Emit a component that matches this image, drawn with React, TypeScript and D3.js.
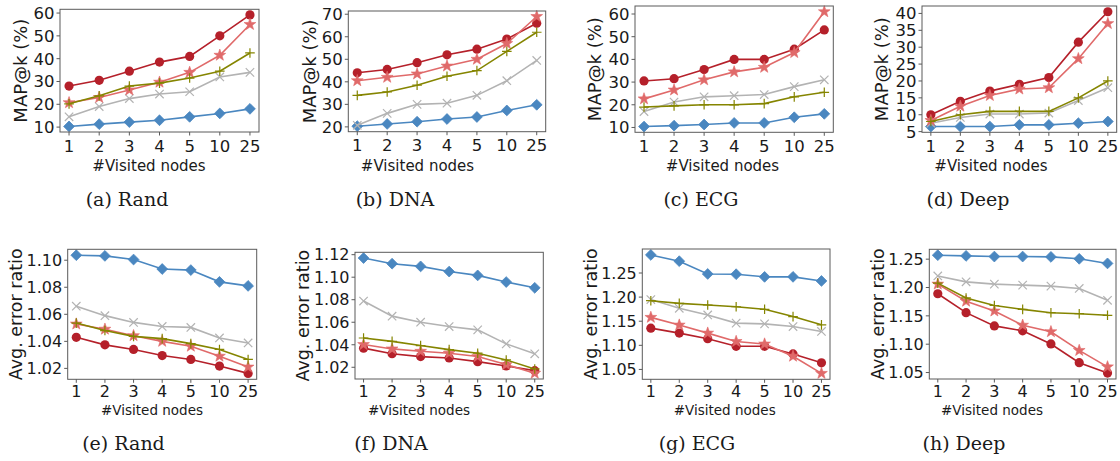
import React from "react";
import * as d3 from "d3";

// x categories
const visitedNodes = ["1", "2", "3", "4", "5", "10", "25"];

// ---- MAP@k (%) ----
const randMapCircle = [28, 30.5, 34.5, 38.5, 41, 50, 59.2];
const randMapStar = [20.7, 23, 26.3, 29.7, 34, 41.5, 55];
const randMapPlus = [20.2, 23.7, 28, 29.3, 31.5, 34.5, 42.5];
const randMapCross = [14.5, 19, 22.5, 24.5, 25.5, 32, 34];
const randMapDiamond = [10.3, 11.3, 12.2, 13, 14.5, 16, 18];

const dnaMapCircle = [44, 45.5, 48.5, 52, 54.5, 59, 66];
const dnaMapStar = [40.5, 42, 43.5, 47, 50, 57, 69];
const dnaMapPlus = [34, 35.5, 38.5, 42.5, 45, 53.5, 62];
const dnaMapCross = [20.7, 26, 30, 30.5, 34, 40.5, 49.5];
const dnaMapDiamond = [20.3, 21.3, 22.3, 23.5, 24.4, 27.3, 29.8];

const ecgMapCircle = [30.5, 31.5, 35.5, 40, 40, 44.5, 53];
const ecgMapStar = [22.6, 26.5, 31, 34.5, 36.5, 43, 61];
const ecgMapPlus = [19, 19.5, 20, 20, 20.5, 23.5, 25.5];
const ecgMapCross = [17, 21.2, 23.5, 24, 24.5, 28, 31];
const ecgMapDiamond = [10.4, 10.8, 11.3, 12, 12, 14.5, 16];

const deepMapCircle = [10, 14, 17, 19, 21, 31.5, 40.5];
const deepMapStar = [8.3, 12.5, 15.7, 17.6, 18, 26.6, 37];
const deepMapPlus = [8, 10, 11, 11, 11, 15, 20];
const deepMapCross = [7.5, 9.2, 10.2, 10.2, 10.5, 14.2, 18];
const deepMapDiamond = [6.5, 6.5, 6.5, 7, 7, 7.5, 8];

// ---- Avg. error ratio ----
const randErrCircle = [1.043, 1.0374, 1.034, 1.0295, 1.0266, 1.0217, 1.0163];
const randErrStar = [1.0528, 1.049, 1.0442, 1.04, 1.0364, 1.029, 1.021];
const randErrPlus = [1.0535, 1.048, 1.0437, 1.042, 1.0383, 1.034, 1.0266];
const randErrCross = [1.066, 1.059, 1.054, 1.051, 1.0503, 1.0425, 1.0388];
const randErrDiamond = [1.1037, 1.1032, 1.1005, 1.0935, 1.0927, 1.084, 1.081];

const dnaErrCircle = [1.037, 1.032, 1.0295, 1.0283, 1.025, 1.0212, 1.017];
const dnaErrStar = [1.0402, 1.0363, 1.0342, 1.0325, 1.0295, 1.0224, 1.0147];
const dnaErrPlus = [1.046, 1.043, 1.0393, 1.0357, 1.0325, 1.0265, 1.0185];
const dnaErrCross = [1.0788, 1.0654, 1.06, 1.0562, 1.0532, 1.0408, 1.032];
const dnaErrDiamond = [1.117, 1.112, 1.1096, 1.105, 1.1016, 1.0957, 1.0906];

const ecgErrCircle = [1.1356, 1.1253, 1.1137, 1.098, 1.098, 1.0822, 1.0637];
const ecgErrStar = [1.158, 1.142, 1.1253, 1.108, 1.1027, 1.0774, 1.0418];
const ecgErrPlus = [1.1925, 1.187, 1.1836, 1.18, 1.1747, 1.1596, 1.1425];
const ecgErrCross = [1.195, 1.1767, 1.163, 1.146, 1.1445, 1.139, 1.1288];
const ecgErrDiamond = [1.2875, 1.2745, 1.248, 1.2475, 1.242, 1.242, 1.2335];

const deepErrCircle = [1.189, 1.1556, 1.1323, 1.1236, 1.1004, 1.0674, 1.049];
const deepErrStar = [1.206, 1.1758, 1.1585, 1.1335, 1.122, 1.089, 1.06];
const deepErrPlus = [1.2077, 1.1816, 1.1683, 1.1614, 1.1556, 1.1538, 1.151];
const deepErrCross = [1.2204, 1.21, 1.206, 1.2042, 1.2024, 1.1984, 1.1775];
const deepErrDiamond = [1.257, 1.2558, 1.2546, 1.2546, 1.254, 1.2506, 1.2425];

// tick labels
const mapTicksRand = [10, 20, 30, 40, 50, 60];
const mapTicksDna = [20, 30, 40, 50, 60, 70];
const mapTicksEcg = [10, 20, 30, 40, 50, 60];
const mapTicksDeep = [5, 10, 15, 20, 25, 30, 35, 40];
const errTicksRand = [1.02, 1.04, 1.06, 1.08, 1.1];
const errTicksDna = [1.02, 1.04, 1.06, 1.08, 1.1, 1.12];
const errTicksEcg = [1.05, 1.1, 1.15, 1.2, 1.25];
const errTicksDeep = [1.05, 1.1, 1.15, 1.2, 1.25];

const COLORS = {
  circle: "#b5202a",
  star: "#e06a6a",
  plus: "#858500",
  cross: "#b3b3b3",
  diamond: "#4a87c0",
};

type Series = { circle: number[]; star: number[]; plus: number[]; cross: number[]; diamond: number[] };

type Panel = {
  caption: string;
  row: number;
  x0: number; x1: number; y0: number; y1: number;
  ticks: number[];
  fmt: (v: number) => string;
  ylabel: string;
  xlabelX: number;
  captionX: number;
  ylabelDy: number;
  series: Series;
};

const fmtInt = (v: number) => String(v);
const fmt2 = d3.format(".2f");

const panels: Panel[] = [
  { caption: "(a) Rand", row: 0, x0: 60, x1: 259, y0: 9.3, y1: 132, ticks: mapTicksRand, fmt: fmtInt, ylabel: "MAP@k (%)", xlabelX: 149, captionX: 127, ylabelDy: 39,
    series: { circle: randMapCircle, star: randMapStar, plus: randMapPlus, cross: randMapCross, diamond: randMapDiamond } },
  { caption: "(b) DNA", row: 0, x0: 348.3, x1: 545.7, y0: 11, y1: 131.7, ticks: mapTicksDna, fmt: fmtInt, ylabel: "MAP@k (%)", xlabelX: 417.5, captionX: 395, ylabelDy: 39,
    series: { circle: dnaMapCircle, star: dnaMapStar, plus: dnaMapPlus, cross: dnaMapCross, diamond: dnaMapDiamond } },
  { caption: "(c) ECG", row: 0, x0: 635, x1: 833.3, y0: 6, y1: 132.3, ticks: mapTicksEcg, fmt: fmtInt, ylabel: "MAP@k (%)", xlabelX: 722.5, captionX: 701, ylabelDy: 40,
    series: { circle: ecgMapCircle, star: ecgMapStar, plus: ecgMapPlus, cross: ecgMapCross, diamond: ecgMapDiamond } },
  { caption: "(d) Deep", row: 0, x0: 922, x1: 1116.7, y0: 6, y1: 132.3, ticks: mapTicksDeep, fmt: fmtInt, ylabel: "MAP@k (%)", xlabelX: 991, captionX: 968, ylabelDy: 40,
    series: { circle: deepMapCircle, star: deepMapStar, plus: deepMapPlus, cross: deepMapCross, diamond: deepMapDiamond } },
  { caption: "(e) Rand", row: 1, x0: 67.7, x1: 256.7, y0: 249.3, y1: 379.3, ticks: errTicksRand, fmt: fmt2, ylabel: "Avg. error ratio", xlabelX: 152, captionX: 123.5, ylabelDy: 52.5,
    series: { circle: randErrCircle, star: randErrStar, plus: randErrPlus, cross: randErrCross, diamond: randErrDiamond } },
  { caption: "(f) DNA", row: 1, x0: 355, x1: 543.3, y0: 252.3, y1: 379, ticks: errTicksDna, fmt: fmt2, ylabel: "Avg. error ratio", xlabelX: 419, captionX: 391, ylabelDy: 52.5,
    series: { circle: dnaErrCircle, star: dnaErrStar, plus: dnaErrPlus, cross: dnaErrCross, diamond: dnaErrDiamond } },
  { caption: "(g) ECG", row: 1, x0: 642.3, x1: 830, y0: 249, y1: 379.3, ticks: errTicksEcg, fmt: fmt2, ylabel: "Avg. error ratio", xlabelX: 724.7, captionX: 697, ylabelDy: 52,
    series: { circle: ecgErrCircle, star: ecgErrStar, plus: ecgErrPlus, cross: ecgErrCross, diamond: ecgErrDiamond } },
  { caption: "(h) Deep", row: 1, x0: 929.3, x1: 1116, y0: 249.3, y1: 379, ticks: errTicksDeep, fmt: fmt2, ylabel: "Avg. error ratio", xlabelX: 992, captionX: 964, ylabelDy: 52,
    series: { circle: deepErrCircle, star: deepErrStar, plus: deepErrPlus, cross: deepErrCross, diamond: deepErrDiamond } },
];

const ROW_STYLE = [
  { tick: 16.5, ylabel: 18, xlabel: 15, tickBase: 19.5, xlabelY: 171, captionY: 206 },
  { tick: 16, ylabel: 17.5, xlabel: 13.5, tickBase: 17.5, xlabelY: 415, captionY: 450 },
];

const SANS = "DejaVu Sans, sans-serif";
const SERIF = "DejaVu Serif, serif";

function starPath(cx: number, cy: number, R: number) {
  const r = R * 0.4;
  const pts: string[] = [];
  for (let i = 0; i < 10; i++) {
    const a = -Math.PI / 2 + (i * Math.PI) / 5;
    const rad = i % 2 === 0 ? R : r;
    pts.push(`${(cx + rad * Math.cos(a)).toFixed(2)},${(cy + rad * Math.sin(a)).toFixed(2)}`);
  }
  return "M" + pts.join("L") + "Z";
}

function Marker({ kind, x, y }: { kind: keyof Series; x: number; y: number }) {
  const c = (COLORS as any)[kind];
  if (kind === "circle") return <circle cx={x} cy={y} r={4.6} fill={c} />;
  if (kind === "star") return <path d={starPath(x, y, 6.2)} fill={c} stroke={c} strokeWidth={0.6} />;
  if (kind === "diamond") {
    const s = 5.4;
    return <path d={`M${x},${y - s}L${x + s},${y}L${x},${y + s}L${x - s},${y}Z`} fill={c} stroke={c} strokeWidth={0.8} />;
  }
  if (kind === "plus") {
    const s = 4.8;
    return <path d={`M${x - s},${y}H${x + s}M${x},${y - s}V${y + s}`} stroke={c} strokeWidth={1.2} fill="none" />;
  }
  const s = 4.2;
  return <path d={`M${x - s},${y - s}L${x + s},${y + s}M${x - s},${y + s}L${x + s},${y - s}`} stroke={c} strokeWidth={1.2} fill="none" />;
}

const ORDER: (keyof Series)[] = ["diamond", "cross", "circle", "star", "plus"];

function PanelView({ p }: { p: Panel }) {
  const st = ROW_STYLE[p.row];
  const all = ORDER.flatMap((k) => p.series[k]);
  const lo = d3.min(all)!;
  const hi = d3.max(all)!;
  const m = (hi - lo) * 0.05;
  const y = d3.scaleLinear().domain([lo - m, hi + m]).range([p.y1, p.y0]);
  const n = visitedNodes.length;
  const xi = d3.scaleLinear().domain([-0.3, n - 1 + 0.3]).range([p.x0, p.x1]);
  const line = d3.line<number>().x((_, i) => xi(i)).y((v) => y(v));
  const frameColor = "#5a5a5a";
  return (
    <g>
      {ORDER.map((k) => (
        <g key={k}>
          <path d={line(p.series[k])!} fill="none" stroke={(COLORS as any)[k]} strokeWidth={1.6} />
          {p.series[k].map((v, i) => (
            <Marker key={i} kind={k} x={xi(i)} y={y(v)} />
          ))}
        </g>
      ))}
      <rect x={p.x0} y={p.y0} width={p.x1 - p.x0} height={p.y1 - p.y0} fill="none" stroke={frameColor} strokeWidth={1} />
      {p.ticks.map((t) => (
        <g key={t}>
          <line x1={p.x0 - 3.5} x2={p.x0} y1={y(t)} y2={y(t)} stroke={frameColor} strokeWidth={1} />
          <text x={p.x0 - 5.5} y={y(t)} dy="0.36em" textAnchor="end" fontFamily={SANS} fontSize={st.tick} fill="#1a1a1a">
            {p.fmt(t)}
          </text>
        </g>
      ))}
      {visitedNodes.map((lab, i) => (
        <g key={lab}>
          <line x1={xi(i)} x2={xi(i)} y1={p.y1} y2={p.y1 + 3.5} stroke={frameColor} strokeWidth={1} />
          <text x={xi(i)} y={p.y1 + st.tickBase} textAnchor="middle" fontFamily={SANS} fontSize={st.tick} fill="#1a1a1a">
            {lab}
          </text>
        </g>
      ))}
      <text
        transform={`translate(${p.x0 - p.ylabelDy},${(p.y0 + p.y1) / 2}) rotate(-90)`}
        textAnchor="middle"
        dy="0.36em"
        fontFamily={SANS}
        fontSize={st.ylabel}
        fill="#1a1a1a"
      >
        {p.ylabel}
      </text>
      <text x={p.xlabelX} y={st.xlabelY} textAnchor="middle" fontFamily={SANS} fontSize={st.xlabel} fill="#1a1a1a">
        #Visited nodes
      </text>
      <text x={p.captionX} y={st.captionY} textAnchor="middle" fontFamily={SERIF} fontSize={19} fill="#1a1a1a">
        {p.caption}
      </text>
    </g>
  );
}

export default function App() {
  return (
    <svg width={1120} height={461} style={{ position: "absolute", left: 0, top: 0, background: "#fff" }}>
      <rect width={1120} height={461} fill="#fff" />
      {panels.map((p) => (
        <PanelView key={p.caption} p={p} />
      ))}
    </svg>
  );
}
